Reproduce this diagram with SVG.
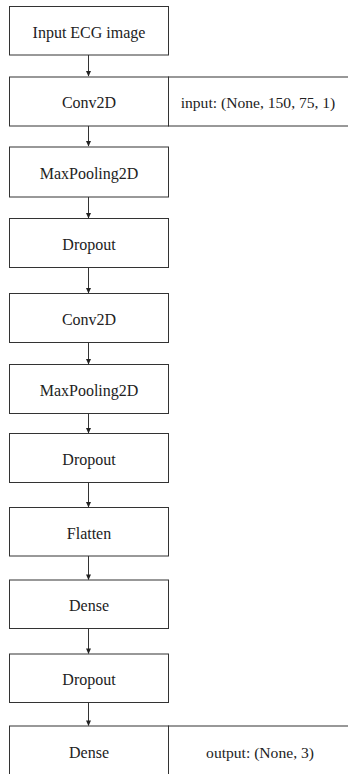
<svg xmlns="http://www.w3.org/2000/svg" width="348" height="774" viewBox="0 0 348 774">
<style>
.box{fill:#fff;stroke:#333;stroke-width:1}
.lbl{font-family:'Liberation Serif','Times New Roman',Times,serif;font-size:16px;fill:#222;text-anchor:middle}
.info{font-size:15.6px}
.edge{stroke:#333;stroke-width:1;fill:none}
.head{fill:#222}
</style>
<rect width="348" height="774" fill="#fff"/>
<g id="connectors">
<path class="edge" d="M88.5,55 V76"/><path class="head" d="M86,71 L91,71 L88.5,76.5 z"/>
<path class="edge" d="M88.5,126 V146"/><path class="head" d="M86,141 L91,141 L88.5,146.5 z"/>
<path class="edge" d="M88.5,197 V218"/><path class="head" d="M86,213 L91,213 L88.5,218.5 z"/>
<path class="edge" d="M88.5,267.5 V293"/><path class="head" d="M86,288 L91,288 L88.5,293.5 z"/>
<path class="edge" d="M88.5,342.5 V364"/><path class="head" d="M86,359 L91,359 L88.5,364.5 z"/>
<path class="edge" d="M88.5,413.5 V433"/><path class="head" d="M86,428 L91,428 L88.5,433.5 z"/>
<path class="edge" d="M88.5,482.5 V507"/><path class="head" d="M86,502 L91,502 L88.5,507.5 z"/>
<path class="edge" d="M88.5,556 V579.5"/><path class="head" d="M86,574.5 L91,574.5 L88.5,580 z"/>
<path class="edge" d="M88.5,628.5 V653.5"/><path class="head" d="M86,648.5 L91,648.5 L88.5,654 z"/>
<path class="edge" d="M88.5,702.5 V725.5"/><path class="head" d="M86,720.5 L91,720.5 L88.5,726 z"/>
</g>
<g id="n1"><rect class="box" x="9.5" y="6.5" width="159" height="48.5"/><text class="lbl" x="89" y="37.5">Input ECG image</text></g>
<g id="n2"><rect class="box" x="9.5" y="77" width="159" height="49"/><text class="lbl" x="89" y="108.3">Conv2D</text></g>
<g id="n2info"><rect class="box" x="168.5" y="77" width="185" height="49"/><text class="lbl info" x="258" y="108.3">input: (None, 150, 75, 1)</text></g>
<g id="n3"><rect class="box" x="9.5" y="147" width="159" height="50"/><text class="lbl" x="89" y="178.8">MaxPooling2D</text></g>
<g id="n4"><rect class="box" x="9.5" y="218.5" width="159" height="49"/><text class="lbl" x="89" y="249.8">Dropout</text></g>
<g id="n5"><rect class="box" x="9.5" y="293.5" width="159" height="49"/><text class="lbl" x="89" y="324.8">Conv2D</text></g>
<g id="n6"><rect class="box" x="9.5" y="364.5" width="159" height="49"/><text class="lbl" x="89" y="395.8">MaxPooling2D</text></g>
<g id="n7"><rect class="box" x="9.5" y="433.5" width="159" height="49"/><text class="lbl" x="89" y="464.8">Dropout</text></g>
<g id="n8"><rect class="box" x="9.5" y="507.5" width="159" height="48.5"/><text class="lbl" x="89" y="538.5">Flatten</text></g>
<g id="n9"><rect class="box" x="9.5" y="580" width="159" height="48.5"/><text class="lbl" x="89" y="611">Dense</text></g>
<g id="n10"><rect class="box" x="9.5" y="654" width="159" height="48.5"/><text class="lbl" x="89" y="685">Dropout</text></g>
<g id="n11"><rect class="box" x="9.5" y="726" width="159" height="60"/><text class="lbl" x="89" y="758">Dense</text></g>
<g id="n11info"><rect class="box" x="168.5" y="726" width="185" height="60"/><text class="lbl info" x="260" y="758">output: (None, 3)</text></g>
</svg>
